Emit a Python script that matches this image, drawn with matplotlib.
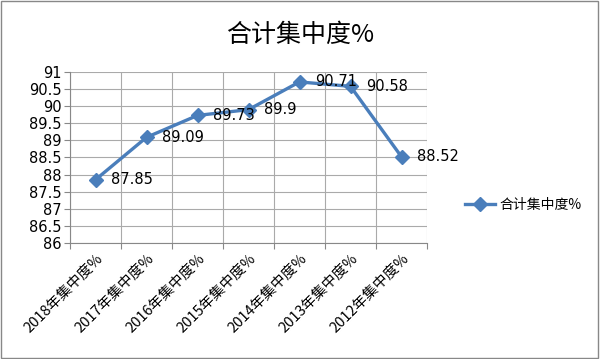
import matplotlib
matplotlib.use('Agg')
import matplotlib.pyplot as plt
from matplotlib.patches import Rectangle

plt.rcParams['font.family'] = ['Noto Sans CJK SC', 'DejaVu Sans']

categories = ['2018年集中度%', '2017年集中度%', '2016年集中度%', '2015年集中度%',
              '2014年集中度%', '2013年集中度%', '2012年集中度%']
values = [87.85, 89.09, 89.73, 89.9, 90.71, 90.58, 88.52]
series_name = '合计集中度%'
yticks = [86, 86.5, 87, 87.5, 88, 88.5, 89, 89.5, 90, 90.5, 91]

color = '#4A7EBB'

fig = plt.figure(figsize=(6, 3.59), dpi=100)
ax = fig.add_axes([70 / 600, 1 - 243 / 359, 357 / 600, 171 / 359])

x = list(range(len(categories)))
ax.plot(x, values, color=color, lw=2.4, marker='D', markersize=7,
        markeredgecolor=color, label=series_name)
for xi, v in zip(x, values):
    ax.annotate(f'{v:g}', (xi, v), xytext=(11, 0), textcoords='offset points',
                fontsize=10.5, va='center', ha='left', family='DejaVu Sans')

ax.set_xlim(-0.5, len(categories) - 0.5)
ax.set_ylim(86, 91)
ax.set_yticks(yticks)
ax.set_yticklabels([f'{t:g}' for t in yticks], fontsize=10.5, family='DejaVu Sans')
ax.set_xticks([i - 0.5 for i in range(len(categories) + 1)], minor=False)
ax.set_xticklabels([])
ax.set_xticks(x, minor=True)
ax.set_xticklabels(categories, minor=True, rotation=45, ha='right',
                   rotation_mode='anchor', fontsize=10.5)
ax.tick_params(axis='x', which='minor', length=0, pad=6)
ax.tick_params(axis='x', which='major', length=4, color='#888888')
ax.tick_params(axis='y', length=4, color='#888888', pad=2)
ax.grid(True, which='major', color='#aaaaaa', lw=0.8)
for side in ['top', 'right']:
    ax.spines[side].set_visible(False)
for side in ['left', 'bottom']:
    ax.spines[side].set_color('#888888')

fig.text(0.5, 1 - 35 / 359, '合计集中度%', ha='center', va='center', fontsize=18)

fig.legend(loc='center left', bbox_to_anchor=(452 / 600, 1 - 205 / 359),
           frameon=False, fontsize=10, handlelength=2.2, handletextpad=0.3)

fig.patches.append(Rectangle((0.002, 0.003), 0.995, 0.994, transform=fig.transFigure,
                             fill=False, edgecolor='#888888', lw=1))

fig.savefig('out.png', dpi=100)
